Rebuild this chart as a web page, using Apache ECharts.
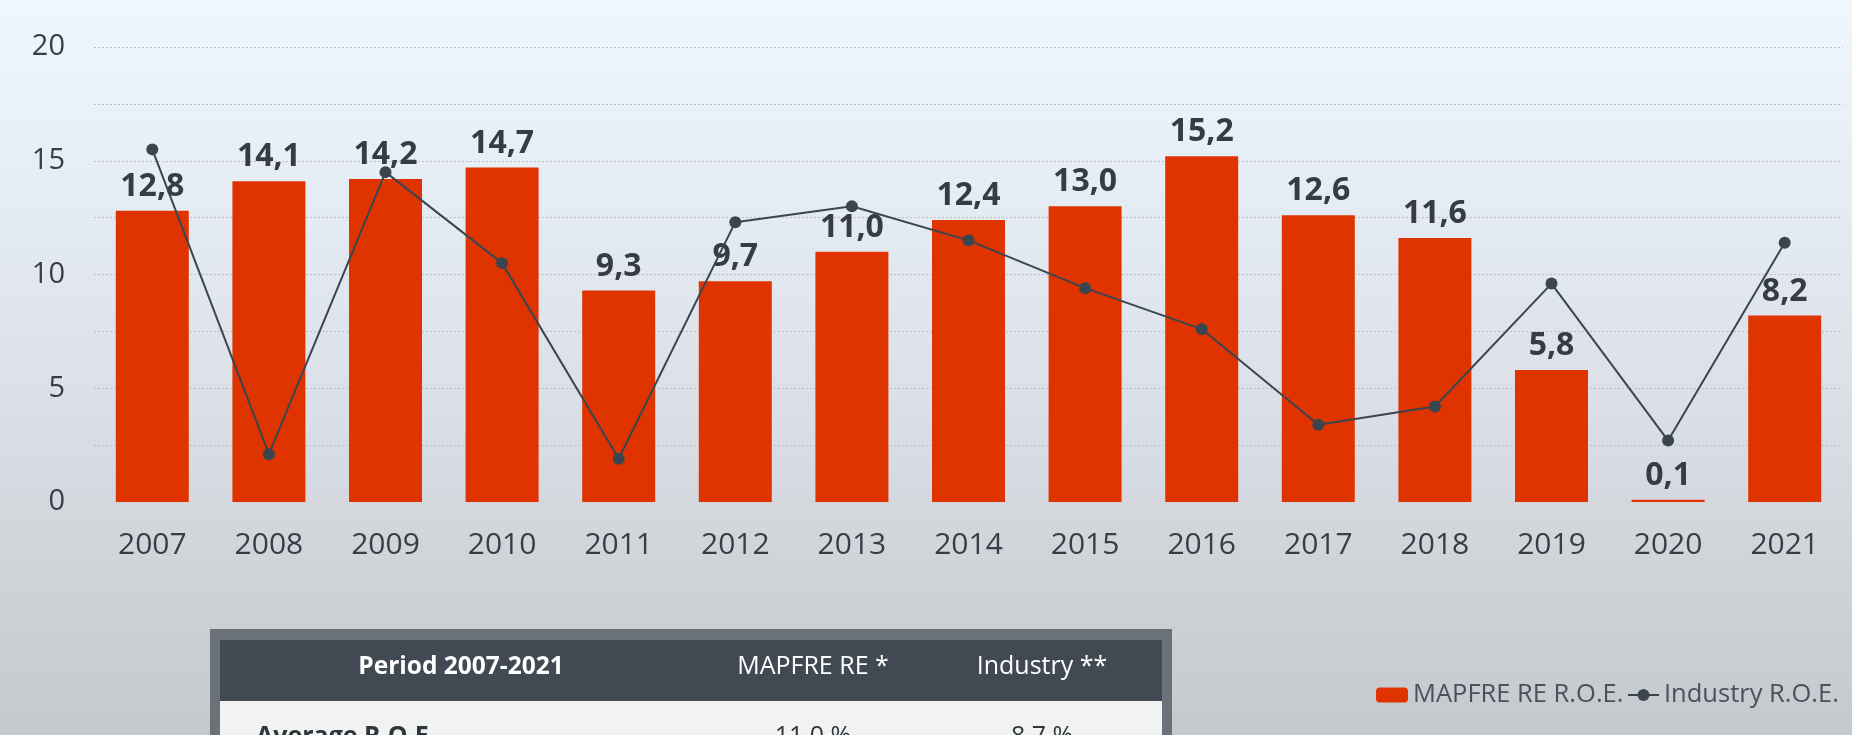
<!DOCTYPE html>
<html>
<head>
<meta charset="utf-8">
<style>
html,body{margin:0;padding:0;width:1852px;height:735px;overflow:hidden;}
#chart{width:1852px;height:735px;}
</style>
<script src="https://cdn.jsdelivr.net/npm/echarts@6/dist/echarts.min.js"></script>
</head>
<body>
<div id="chart"></div>
<script>
const years = ['2007','2008','2009','2010','2011','2012','2013','2014','2015','2016','2017','2018','2019','2020','2021'];
const mapfreROE = [12.8, 14.1, 14.2, 14.7, 9.3, 9.7, 11.0, 12.4, 13.0, 15.2, 12.6, 11.6, 5.8, 0.1, 8.2];
const industryROE = [15.5, 2.1, 14.5, 10.5, 1.9, 12.3, 13.0, 11.5, 9.4, 7.6, 3.4, 4.2, 9.6, 2.7, 11.4];
const seriesNames = ['MAPFRE RE R.O.E.', 'Industry R.O.E.'];
const tableHeader = ['Period 2007-2021', 'MAPFRE RE *', 'Industry **'];
const tableRow = ['Average R.O.E.', '11,0 %', '8,7 %'];

const FONT = '"Open Sans", "Noto Sans", sans-serif';
const fmt = v => v.toFixed(1).replace('.', ',');

const chart = echarts.init(document.getElementById('chart'), null, {renderer: 'canvas'});
chart.setOption({
  animation: false,
  backgroundColor: {
    type: 'linear', x: 0, y: 0, x2: 0, y2: 1,
    colorStops: [
      {offset: 0, color: '#eff7fe'},
      {offset: 0.5, color: '#dde2e9'},
      {offset: 1, color: '#c5c8cc'}
    ]
  },
  grid: {left: 94, right: 9, top: 47, bottom: 233, containLabel: false},
  legend: [
    {
      data: [seriesNames[0]], left: 1371, top: 677, itemWidth: 32, itemHeight: 15, itemGap: 0,
      textStyle: {fontFamily: FONT, fontSize: 25.5, color: '#47525c'}
    },
    {
      data: [seriesNames[1]], left: 1622, top: 677, itemWidth: 31, itemHeight: 15, itemGap: 0,
      textStyle: {fontFamily: FONT, fontSize: 25.5, color: '#47525c'}
    }
  ],
  xAxis: {
    type: 'category',
    data: years,
    axisLine: {show: true, lineStyle: {color: '#d4d6d9', width: 2}},
    axisTick: {show: false},
    axisLabel: {fontFamily: FONT, fontSize: 30, color: '#383e45', margin: 28}
  },
  yAxis: {
    type: 'value', min: 0, max: 20, interval: 2.5,
    axisLine: {show: false}, axisTick: {show: false},
    axisLabel: {
      fontFamily: FONT, fontSize: 29, color: '#383e45', margin: 29,
      formatter: v => (v % 5 === 0 ? String(v) : '')
    },
    splitLine: {show: true, lineStyle: {color: '#bcc0c5', type: [2, 2], width: 1}}
  },
  series: [
    {
      name: seriesNames[0], type: 'bar', data: mapfreROE,
      barCategoryGap: '37.4%',
      itemStyle: {color: '#e03400'},
      label: {
        show: true, position: 'top', distance: 8,
        fontFamily: FONT, fontSize: 32, fontWeight: 'bold', color: '#353c44',
        formatter: p => fmt(p.value)
      },
      z: 2
    },
    {
      name: seriesNames[1], type: 'line', data: industryROE,
      symbol: 'circle', symbolSize: 12,
      lineStyle: {color: '#3b4550', width: 2},
      itemStyle: {color: '#3b4550'},
      z: 3
    }
  ],
  graphic: [
    {type: 'rect', shape: {x: 210, y: 629, width: 962, height: 120}, style: {fill: '#6a7179'}, silent: true},
    {type: 'rect', shape: {x: 220, y: 640, width: 942, height: 61}, style: {fill: '#414a53'}, silent: true},
    {type: 'rect', shape: {x: 220, y: 701, width: 942, height: 50}, style: {fill: '#f1f2f2'}, silent: true},
    {type: 'text', style: {text: tableHeader[0], x: 461, y: 667, align: 'center', verticalAlign: 'middle', fill: '#ffffff', font: 'bold 24.5px ' + FONT}},
    {type: 'text', style: {text: tableHeader[1], x: 813, y: 667, align: 'center', verticalAlign: 'middle', fill: '#ffffff', font: '25px ' + FONT}},
    {type: 'text', style: {text: tableHeader[2], x: 1042, y: 667, align: 'center', verticalAlign: 'middle', fill: '#ffffff', font: '25px ' + FONT}},
    {type: 'text', style: {text: tableRow[0], x: 256, y: 737, align: 'left', verticalAlign: 'middle', fill: '#2f353b', font: 'bold 25px ' + FONT}},
    {type: 'text', style: {text: tableRow[1], x: 813, y: 737, align: 'center', verticalAlign: 'middle', fill: '#2f353b', font: '25px ' + FONT}},
    {type: 'text', style: {text: tableRow[2], x: 1042, y: 737, align: 'center', verticalAlign: 'middle', fill: '#2f353b', font: '25px ' + FONT}}
  ]
});
</script>
</body>
</html>
